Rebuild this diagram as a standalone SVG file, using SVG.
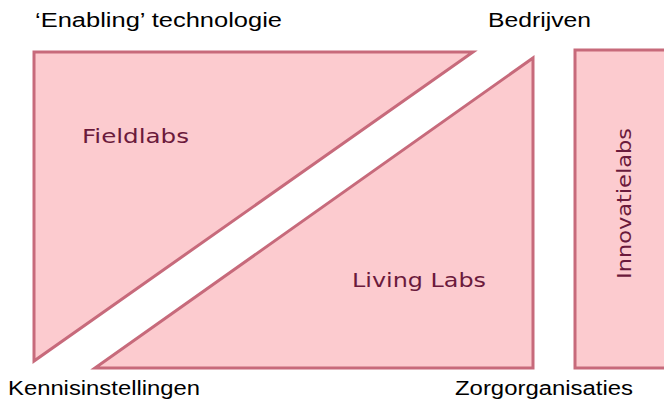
<svg xmlns="http://www.w3.org/2000/svg" width="664" height="402" viewBox="0 0 664 402">
<style>
.shape{fill:#fccbcf;stroke:#c76a7b;stroke-width:3;stroke-linejoin:miter}
.lbl{font-family:"Liberation Sans",Arial,sans-serif;font-size:20px;fill:#000}
.in{font-family:"DejaVu Sans",sans-serif;font-size:20px;fill:#6b1a3c}
</style>
<rect width="664" height="402" fill="#fff"/>
<g id="fieldlabs">
<polygon class="shape" points="34,52 473,52 34,361"/>
<text class="in" x="82" y="143" textLength="107" lengthAdjust="spacingAndGlyphs">Fieldlabs</text>
</g>
<g id="livinglabs">
<polygon class="shape" points="533,58 533,368 95,368"/>
<text class="in" x="352" y="287" textLength="134" lengthAdjust="spacingAndGlyphs">Living Labs</text>
</g>
<g id="innovatielabs">
<rect class="shape" x="575" y="50" width="100" height="318"/>
<text class="in" transform="translate(631,279) rotate(-90)" x="0" y="0" textLength="151" lengthAdjust="spacingAndGlyphs">Innovatielabs</text>
</g>
<g id="labels">
<text class="lbl" x="35" y="27" textLength="247" lengthAdjust="spacingAndGlyphs">‘Enabling’ technologie</text>
<text class="lbl" x="488" y="27" textLength="103" lengthAdjust="spacingAndGlyphs">Bedrijven</text>
<text class="lbl" x="8" y="395" textLength="192" lengthAdjust="spacingAndGlyphs">Kennisinstellingen</text>
<text class="lbl" x="455" y="395" textLength="178" lengthAdjust="spacingAndGlyphs">Zorgorganisaties</text>
</g>
<g id="connectors"></g>
</svg>
